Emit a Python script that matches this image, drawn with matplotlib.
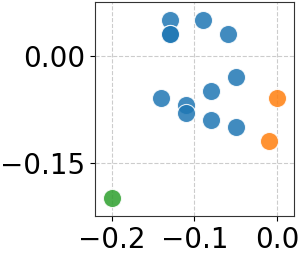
import numpy as np
import matplotlib
matplotlib.use("Agg")
import matplotlib.pyplot as plt

# cluster points
blue_x = [-0.13, -0.13, -0.13, -0.09, -0.06, -0.05, -0.08, -0.14, -0.11, -0.11, -0.08, -0.05]
blue_y = [0.05, 0.03, 0.03, 0.05, 0.03, -0.03, -0.05, -0.06, -0.07, -0.08, -0.09, -0.10]
orange_x = [0.0, -0.01]
orange_y = [-0.06, -0.12]
green_x = [-0.2]
green_y = [-0.2]

fig, ax = plt.subplots(figsize=(2.99, 2.56), dpi=100)

kw = dict(s=170, alpha=0.85, edgecolors="white", linewidths=0.8, zorder=3)
ax.scatter(blue_x, blue_y, color="#1f77b4", **kw)
ax.scatter(orange_x, orange_y, color="#ff7f0e", **kw)
ax.scatter(green_x, green_y, color="#2ca02c", **kw)

ax.set_xlim(-0.22, 0.02)
ax.set_ylim(-0.225, 0.075)
ax.set_xticks([-0.2, -0.1, 0.0])
ax.set_yticks([0.0, -0.15])
ax.set_yticklabels(["0.00", "\u22120.15"])
ax.tick_params(labelsize=20)
ax.grid(True, linestyle="--", color="#cccccc", linewidth=0.8)
ax.set_axisbelow(True)
for sp in ax.spines.values():
    sp.set_color("#333333")

fig.subplots_adjust(left=0.318, right=0.983, top=0.992, bottom=0.156)
fig.savefig("out.png", dpi=100)
